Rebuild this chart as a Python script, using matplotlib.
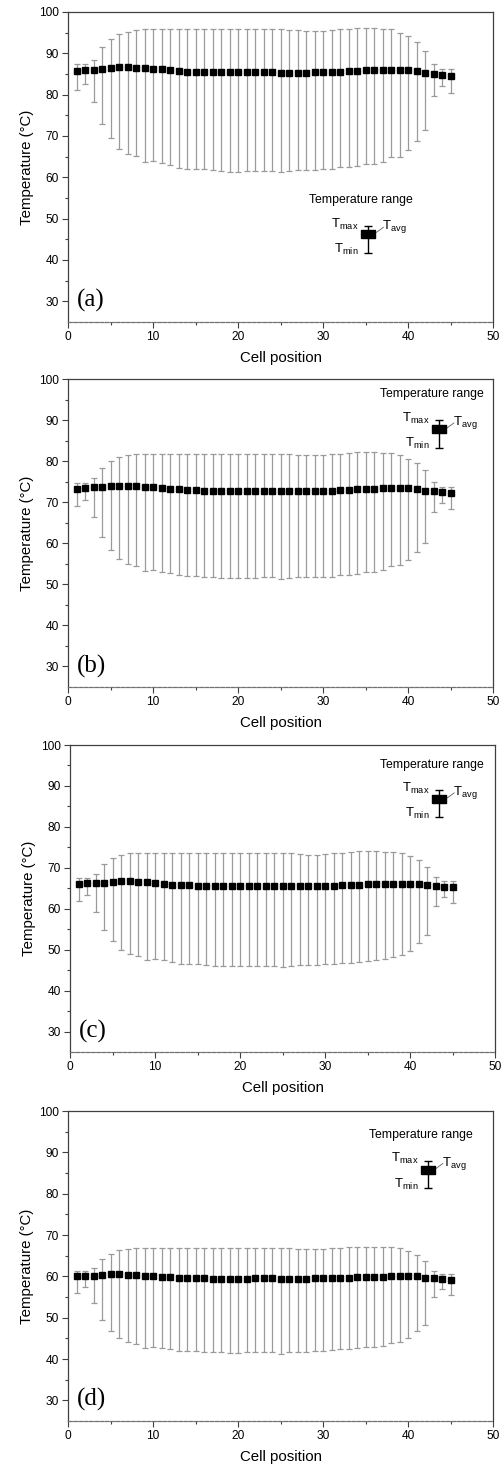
import matplotlib
matplotlib.use('Agg')
import matplotlib.pyplot as plt
import numpy as np

plt.rcParams['font.family'] = ['Liberation Sans', 'DejaVu Sans']
plt.rcParams['mathtext.fontset'] = 'custom'
plt.rcParams['mathtext.rm'] = 'Liberation Sans'
plt.rcParams['mathtext.it'] = 'Liberation Sans'

cells = np.arange(1, 46)

# (a)
avg_a = [85.7, 85.9, 86.0, 86.2, 86.5, 86.6, 86.6, 86.5, 86.4, 86.3, 86.1, 85.9, 85.8, 85.6, 85.6,
         85.5, 85.5, 85.4, 85.4, 85.4, 85.4, 85.4, 85.4, 85.4, 85.3, 85.3, 85.3, 85.3, 85.4, 85.4,
         85.5, 85.6, 85.7, 85.8, 85.9, 86.0, 86.0, 86.0, 86.0, 85.9, 85.7, 85.3, 85.0, 84.8, 84.6]
max_a = [87.3, 87.3, 88.5, 91.5, 93.4, 94.6, 95.2, 95.7, 95.8, 95.8, 95.8, 95.8, 95.8, 95.8, 95.8,
         95.8, 95.8, 95.8, 95.8, 95.8, 95.8, 95.8, 95.8, 95.8, 95.8, 95.7, 95.6, 95.5, 95.5, 95.5,
         95.7, 95.8, 96.0, 96.1, 96.1, 96.1, 96.0, 95.9, 95.0, 94.2, 92.7, 90.6, 87.5, 86.3, 86.3]
min_a = [81.2, 82.7, 78.2, 72.8, 69.4, 66.9, 65.6, 65.1, 63.6, 64.0, 63.4, 63.0, 62.3, 62.1, 62.1,
         61.9, 61.7, 61.6, 61.3, 61.4, 61.5, 61.5, 61.5, 61.6, 61.2, 61.5, 61.7, 61.8, 61.8, 61.9,
         61.9, 62.5, 62.4, 62.7, 63.2, 63.3, 63.6, 64.8, 65.0, 66.6, 68.8, 71.5, 79.7, 82.0, 80.5]

# (b)
avg_b = [73.3, 73.5, 73.6, 73.7, 73.9, 74.0, 74.0, 73.9, 73.8, 73.6, 73.4, 73.2, 73.1, 72.9, 72.9,
         72.8, 72.8, 72.7, 72.7, 72.7, 72.7, 72.7, 72.7, 72.7, 72.7, 72.7, 72.7, 72.7, 72.7, 72.7,
         72.8, 72.9, 73.0, 73.1, 73.2, 73.3, 73.4, 73.4, 73.5, 73.4, 73.2, 72.8, 72.7, 72.5, 72.3]
max_b = [74.7, 74.7, 75.8, 78.4, 80.1, 81.0, 81.4, 81.8, 81.8, 81.8, 81.8, 81.8, 81.8, 81.8, 81.8,
         81.8, 81.8, 81.8, 81.8, 81.8, 81.8, 81.8, 81.8, 81.8, 81.8, 81.7, 81.6, 81.5, 81.5, 81.5,
         81.7, 81.8, 82.0, 82.2, 82.2, 82.2, 82.1, 82.0, 81.5, 80.6, 79.6, 77.8, 75.0, 73.8, 73.8]
min_b = [69.0, 70.5, 66.4, 61.5, 58.3, 56.2, 55.0, 54.5, 53.3, 53.6, 53.1, 52.7, 52.2, 52.0, 52.0,
         51.9, 51.7, 51.6, 51.5, 51.5, 51.5, 51.5, 51.7, 51.7, 51.3, 51.5, 51.7, 51.8, 51.8, 51.9,
         51.9, 52.3, 52.2, 52.6, 53.0, 53.1, 53.5, 54.5, 54.6, 55.9, 57.8, 60.1, 67.6, 69.8, 68.4]

# (c)
avg_c = [66.1, 66.2, 66.3, 66.4, 66.6, 66.7, 66.7, 66.6, 66.5, 66.3, 66.1, 65.9, 65.8, 65.7, 65.6,
         65.6, 65.5, 65.5, 65.5, 65.5, 65.5, 65.5, 65.5, 65.5, 65.5, 65.5, 65.5, 65.5, 65.5, 65.5,
         65.6, 65.7, 65.8, 65.9, 66.0, 66.0, 66.1, 66.1, 66.1, 66.1, 66.0, 65.7, 65.5, 65.3, 65.2]
max_c = [67.5, 67.5, 68.4, 70.9, 72.3, 73.1, 73.5, 73.7, 73.7, 73.7, 73.7, 73.7, 73.7, 73.7, 73.7,
         73.7, 73.7, 73.7, 73.7, 73.7, 73.7, 73.7, 73.7, 73.7, 73.7, 73.6, 73.4, 73.2, 73.2, 73.3,
         73.6, 73.7, 73.9, 74.0, 74.0, 74.0, 73.9, 73.8, 73.5, 72.8, 71.8, 70.2, 67.7, 66.7, 66.7]
min_c = [61.8, 63.3, 59.3, 54.8, 52.0, 50.0, 48.9, 48.5, 47.4, 47.8, 47.4, 46.9, 46.6, 46.4, 46.4,
         46.2, 46.1, 46.0, 45.9, 45.9, 46.0, 46.1, 46.1, 46.1, 45.8, 46.1, 46.3, 46.3, 46.3, 46.4,
         46.5, 46.8, 46.8, 46.9, 47.3, 47.4, 47.7, 48.3, 48.6, 49.7, 51.7, 53.5, 60.7, 62.8, 61.4]

# (d)
avg_d = [60.0, 60.1, 60.2, 60.3, 60.5, 60.5, 60.4, 60.3, 60.2, 60.1, 59.9, 59.8, 59.7, 59.6, 59.5,
         59.5, 59.4, 59.4, 59.4, 59.4, 59.4, 59.5, 59.5, 59.5, 59.4, 59.4, 59.4, 59.4, 59.5, 59.5,
         59.6, 59.6, 59.7, 59.8, 59.8, 59.9, 59.9, 60.0, 60.0, 60.1, 60.0, 59.7, 59.5, 59.3, 59.1]
max_d = [61.2, 61.2, 62.1, 64.2, 65.5, 66.3, 66.7, 66.9, 66.9, 66.9, 66.9, 66.9, 66.9, 66.9, 66.9,
         66.9, 66.9, 66.9, 66.9, 66.9, 66.9, 66.9, 66.9, 66.9, 66.9, 66.8, 66.6, 66.5, 66.5, 66.6,
         66.8, 66.9, 67.1, 67.2, 67.2, 67.2, 67.1, 67.0, 66.8, 66.2, 65.2, 63.8, 61.4, 60.5, 60.5]
min_d = [56.0, 57.3, 53.6, 49.4, 46.8, 45.0, 44.0, 43.7, 42.7, 43.0, 42.7, 42.4, 42.0, 41.9, 41.9,
         41.7, 41.6, 41.6, 41.4, 41.5, 41.6, 41.6, 41.6, 41.6, 41.3, 41.6, 41.8, 41.8, 41.9, 42.0,
         42.1, 42.4, 42.3, 42.6, 42.9, 43.0, 43.2, 43.9, 44.0, 45.0, 46.7, 48.3, 54.9, 56.9, 55.6]

panel_tags = ['(a)', '(b)', '(c)', '(d)']
series = [(avg_a, max_a, min_a), (avg_b, max_b, min_b),
          (avg_c, max_c, min_c), (avg_d, max_d, min_d)]

# key symbol: x, avg, max, min (data units)
key_pos = [(35.3, 46.4, 48.2, 41.7),
           (43.6, 87.8, 90.0, 83.3),
           (43.4, 86.8, 88.9, 82.3),
           (42.3, 85.8, 87.9, 81.3)]

# axes rectangles in pixels: left, top, bottom
W, H = 504, 1466
boxes = [(68, 12, 322), (68, 379, 687), (70, 745, 1052), (68, 1111, 1421)]

fig = plt.figure(figsize=(W / 100, H / 100), dpi=100)

rect_marker = [(-1.6, -1.0), (1.6, -1.0), (1.6, 1.0), (-1.6, 1.0), (-1.6, -1.0)]

for tag, (avg, tmax, tmin), key, (lft, top, bot) in zip(panel_tags, series, key_pos, boxes):
    ax = fig.add_axes([lft / W, 1 - bot / H, 425 / W, (bot - top) / H])
    avg = np.array(avg)
    lower = avg - np.array(tmin)
    upper = np.array(tmax) - avg

    ax.errorbar(cells, avg, yerr=[lower, upper], fmt='none', ecolor='#9a9a9a',
                elinewidth=0.9, capsize=2.3, capthick=0.9, zorder=2)
    ax.plot(cells, avg, 's', color='black', ms=4.8, zorder=3)

    ax.set_xlim(0, 50)
    ax.set_ylim(25, 100)
    ax.set_xticks(range(0, 51, 10))
    ax.set_xticks(range(5, 50, 10), minor=True)
    ax.set_yticks(range(30, 101, 10))
    ax.set_yticks(range(35, 100, 10), minor=True)
    ax.tick_params(which='major', direction='out', length=4.5, width=0.8,
                   color='#404040', labelsize=8.6, pad=2)
    ax.tick_params(which='minor', direction='out', length=2.5, width=0.8, color='#404040')
    for s in ['left', 'top', 'right']:
        ax.spines[s].set_color('#404040')
        ax.spines[s].set_linewidth(0.9)
    ax.spines['bottom'].set_color('#707070')
    ax.spines['bottom'].set_linestyle((0, (3, 1.2)))
    ax.spines['bottom'].set_linewidth(0.9)

    ax.set_xlabel('Cell position', fontsize=10.8, labelpad=6)
    ax.set_ylabel('Temperature (°C)', fontsize=10.8, labelpad=4)

    ax.text(0.022, 0.068, tag, transform=ax.transAxes, ha='left', va='center',
            family='Liberation Serif', fontsize=18)

    # key for the temperature range symbol
    kx, kavg, kmax, kmin = key
    ax.errorbar([kx], [kavg], yerr=[[kavg - kmin], [kmax - kavg]], fmt='none',
                ecolor='black', elinewidth=1.0, capsize=2.8, capthick=1.0, zorder=4)
    ax.plot([kx], [kavg], marker=rect_marker, color='black', ms=9.5, ls='none', zorder=5)
    ax.text(kx - 0.8, kmax + 6.3, 'Temperature range', ha='center', va='center', fontsize=8.8)
    ax.text(kx - 1.1, kmax + 0.5, r'$\mathrm{T_{max}}$', ha='right', va='center', fontsize=9.5)
    ax.text(kx - 1.1, kmin + 0.9, r'$\mathrm{T_{min}}$', ha='right', va='center', fontsize=9.5)
    ax.text(kx + 1.7, kavg + 1.6, r'$\mathrm{T_{avg}}$', ha='left', va='center', fontsize=9.5)
    ax.plot([kx + 1.0, kx + 1.8], [kavg + 0.3, kavg + 1.5], color='#606060', lw=0.6, zorder=4)

fig.savefig('out.png', dpi=100, facecolor='white')
